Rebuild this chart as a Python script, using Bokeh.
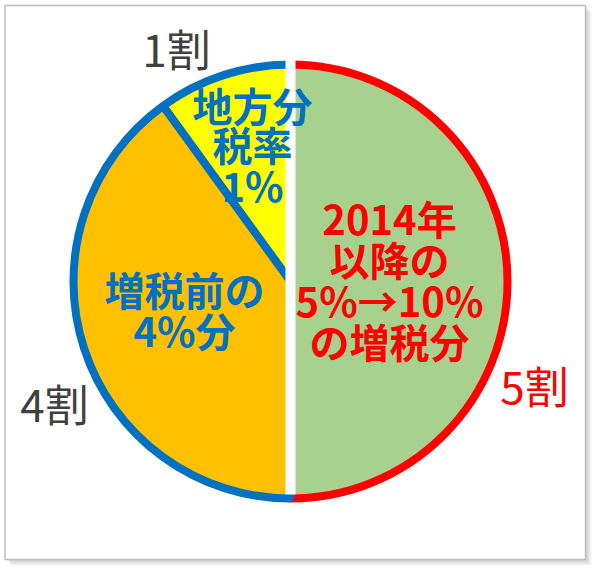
import numpy as np
from bokeh.plotting import figure
from bokeh.models import Range1d, ColumnDataSource
from bokeh.core.properties import value
from bokeh.embed import file_html
from bokeh.resources import INLINE

# ---- data ----
categories = ["2014年以降の5%→10%の増税分", "地方分税率1%", "増税前の4%分"]
shares = [5, 1, 4]                      # 割 (tenths)
share_labels = ["5割", "1割", "4割"]
inner_lines = [["2014年", "以降の", "5%→10%", "の増税分"],
               ["地方分", "税率", "1%"],
               ["増税前の", "4%分"]]

# ---- styles ----
fill_colors = ["#a9d18e", "#ffff00", "#ffc000"]
edge_colors = ["#ff0000", "#0070c0", "#0070c0"]
inner_colors = ["#ff0000", "#0070c0", "#0070c0"]
label_colors = ["#ff0000", "#404040", "#404040"]

# ---- layout (screen pixels, y measured downward then flipped) ----
W, H = 596, 570
def fy(page_y):
    return H - page_y

CX, CY = 290, fy(281)
EDGE_W = 8
R = 221 - EDGE_W / 2
label_pos = [(534, fy(384)), (176, fy(47)), (54, fy(402))]
inner_pos_x = [389, 252, 184]
inner_pos_y = [[fy(v) for v in (217, 258, 299, 340)],
               [fy(v) for v in (104, 143, 184)],
               [fy(v) for v in (288, 329)]]
FONT = "Noto Sans CJK JP"

p = figure(width=W, height=H, x_range=Range1d(0, W), y_range=Range1d(0, H),
           output_backend="svg", toolbar_location=None, min_border=0)
p.axis.visible = False
p.grid.visible = False
p.outline_line_color = None
p.background_fill_color = "white"
p.border_fill_color = "white"

# frame with soft shadow
fl, fr, ft, fb = 4.5, 585, fy(5), fy(559)
for i in range(6, 0, -1):
    p.quad(left=fl + i, right=fr + i, bottom=fb - i, top=ft - i,
           fill_color="#808080", fill_alpha=0.07, line_color=None)
p.quad(left=fl, right=fr, bottom=fb, top=ft, fill_color="white",
       line_color="#bfbfbf", line_width=1.5)

# wedges
total = float(sum(shares))
cum = np.concatenate([[0.0], np.cumsum(shares)])
start = -np.pi / 2 + 2 * np.pi * cum[:-1] / total
end = -np.pi / 2 + 2 * np.pi * cum[1:] / total
src = ColumnDataSource(dict(start=start, end=end, fill=fill_colors, edge=edge_colors,
                            cat=categories))
p.wedge(x=CX, y=CY, radius=R, start_angle="start", end_angle="end",
        fill_color="fill", line_color="edge", line_width=EDGE_W, source=src)

# white separator
p.quad(left=CX - 5, right=CX + 5, bottom=CY - R + EDGE_W / 2, top=CY + R + 8,
       fill_color="white", line_color=None)

# inner texts
for lines, x, ys, col in zip(inner_lines, inner_pos_x, inner_pos_y, inner_colors):
    p.text(x=[x] * len(lines), y=ys, text=lines, text_color=col,
           text_font=value(FONT), text_font_style="bold", text_font_size="40px",
           text_align="center", text_baseline="middle")

# outer share labels
for lab, (x, y), col in zip(share_labels, label_pos, label_colors):
    p.text(x=[x], y=[y], text=[lab], text_color=col, text_font=value(FONT),
           text_font_size="44px", text_align="center", text_baseline="middle")

open("out.html", "w").write(file_html(p, INLINE))
